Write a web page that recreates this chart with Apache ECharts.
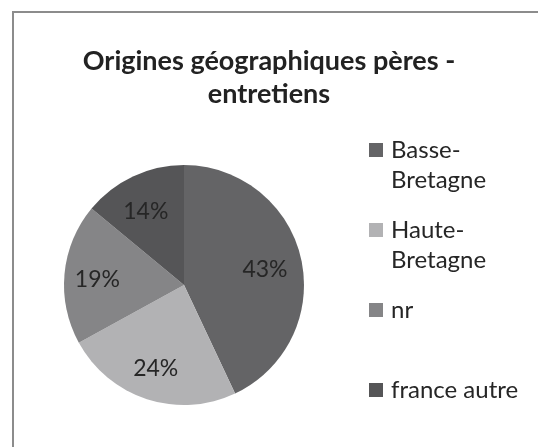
<!DOCTYPE html>
<html lang="fr">
<head>
  <meta charset="utf-8">
  <title>Origines géographiques pères - entretiens</title>
  <script src="https://cdn.jsdelivr.net/npm/echarts@6/dist/echarts.min.js"></script>
</head>
<body style="margin: 0; background: #fff;">
  <div id="container" style="width: 538px; height: 447px;"></div>
  <script>
    // données
    var regions = ['Basse-Bretagne', 'Haute-Bretagne', 'nr', 'france autre'];
    var parts = [43, 24, 19, 14];
    var couleurs = ['#646466', '#b2b2b4', '#858587', '#555557'];

    var font = 'Lato, "Open Sans", sans-serif';
    var data = regions.map(function (r, i) {
      return { name: r, value: parts[i], itemStyle: { color: couleurs[i] } };
    });

    var chart = echarts.init(document.getElementById('container'), null, { renderer: 'canvas' });
    chart.setOption({
      animation: false,
      title: {
        text: 'Origines géographiques pères -\nentretiens',
        left: 'center',
        top: 40,
        textStyle: { fontFamily: font, fontSize: 27, fontWeight: 'bold', color: '#222', lineHeight: 33 }
      },
      legend: {
        orient: 'vertical',
        left: 369,
        top: 105,
        padding: 0,
        itemGap: -10,
        itemWidth: 14,
        itemHeight: 14,
        icon: 'rect',
        textStyle: { fontFamily: font, fontSize: 24, color: '#262626', lineHeight: 30, padding: [0, 0, 0, 3] },
        data: regions,
        // une ligne vide autour pour que le carré reste face à la première ligne
        formatter: function (name) {
          var lignes = name.replace('-', '-\n');
          return lignes.indexOf('\n') > 0 ? '\n' + lignes : '\n' + lignes + '\n';
        }
      },
      graphic: [{
        type: 'polyline',
        silent: true,
        shape: { points: [[13, 447], [13, 12], [538, 12]] },
        style: { stroke: '#8c8c8c', lineWidth: 2, fill: null }
      }],
      series: [
        {
          type: 'pie',
          center: [184, 285],
          radius: [0, 120],
          startAngle: 90,
          clockwise: true,
          label: { show: false },
          labelLine: { show: false },
          data: data
        },
        {
          // série transparente pour placer les étiquettes plus loin du centre
          type: 'pie',
          center: [184, 285],
          radius: [0, 164],
          startAngle: 90,
          clockwise: true,
          silent: true,
          itemStyle: { color: 'rgba(0,0,0,0)' },
          label: {
            show: true,
            position: 'inside',
            formatter: '{c}%',
            fontFamily: font,
            fontSize: 23,
            color: '#262626',
            offset: [-2, 3]
          },
          labelLine: { show: false },
          data: regions.map(function (r, i) { return { name: r, value: parts[i] }; })
        }
      ]
    });
  </script>
</body>
</html>
